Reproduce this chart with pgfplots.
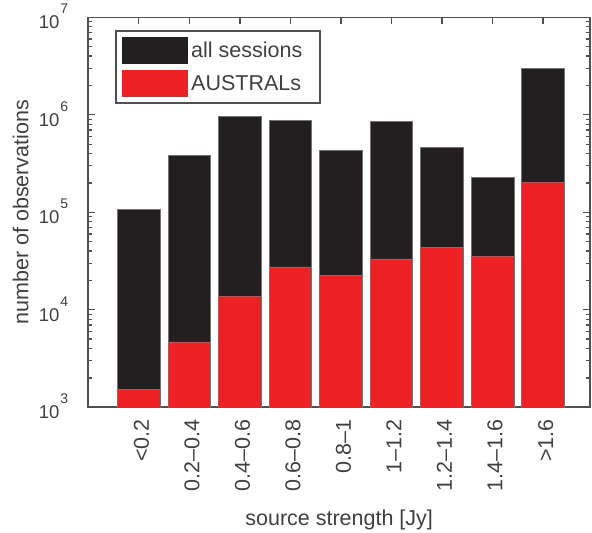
\documentclass[border=0pt]{standalone}
\usepackage{pgfplots}
\pgfplotsset{compat=1.18}
\usepackage{fontspec}
\setmainfont{Liberation Sans}
\definecolor{barblack}{RGB}{35,31,32}
\definecolor{barred}{RGB}{237,32,36}
\definecolor{axgray}{RGB}{80,80,80}
\definecolor{txtgray}{RGB}{64,64,64}
\newcommand{\tenp}[1]{{\fontsize{18.5}{20}\selectfont 10}\hspace{0.8pt}\raisebox{15pt}{\fontsize{14}{14}\selectfont #1}}
\newcommand{\ff}{\fontsize{21.5}{25}\selectfont}
\begin{document}
\begin{tikzpicture}
\useasboundingbox (-88.3pt,-125.7pt) rectangle (503.7pt,407.3pt);
\begin{axis}[
  scale only axis, width=501.7pt, height=390pt,
  at={(0pt,0pt)}, anchor=south west,
  ymode=log, ymin=1e3, ymax=1e7,
  xmin=-1, xmax=8.93,
  ytick={1e3,1e4,1e5,1e6,1e7},
  yticklabels={\tenp{3},\tenp{4},\tenp{5},\tenp{6},\tenp{7}},
  xtick={0,1,2,3,4,5,6,7,8},
  xticklabels={<0.2,0.2–0.4,0.4–0.6,0.6–0.8,0.8–1,1–1.2,1.2–1.4,1.4–1.6,>1.6},
  xtick pos=upper, xticklabel pos=lower,
  ytick pos=both, yticklabel pos=lower,
  tick align=inside,
  axis line style={axgray, line width=1.6pt},
  every tick/.style={axgray, line width=1.3pt},
  major tick length=7pt, minor tick length=4pt,
  tick label style={font=\ff, text=txtgray},
  yticklabel style={anchor=base east, inner sep=0pt, xshift=-20pt, yshift=-11.3pt},
  xticklabel style={xshift=10pt, yshift=-12pt, rotate=90, anchor=base east, inner sep=0pt},
  label style={font=\ff, text=txtgray},
  xlabel={source strength [Jy]},
  ylabel={number of observations},
  xlabel style={at={(axis description cs:0.5,0)}, anchor=base, yshift=-118.2pt},
  ylabel style={at={(axis description cs:-0.1196,0.5)}, anchor=base},
  legend style={at={(0.0532,0.9677)}, anchor=north west, draw=axgray, line width=1.8pt,
    fill=white, inner xsep=6pt, inner ysep=6pt, row sep=6pt, column sep=4pt,
    font=\ff, text=txtgray, nodes={inner sep=0pt, anchor=west}},
  legend cell align=left,
]
\addplot[ybar, bar width=0.845, bar shift=0pt, fill=barblack, draw=black!55, line width=0.6pt,
  legend image code/.code={\fill[barblack] (0pt,-13.2pt) rectangle (64.7pt,13.2pt);}]
  coordinates {(0,1.07e5) (1,3.83e5) (2,9.7e5) (3,8.83e5) (4,4.34e5) (5,8.55e5) (6,4.59e5) (7,2.26e5) (8,3.02e6)};
\addlegendentry{all sessions\kern12pt\null}
\addplot[ybar, bar width=0.845, bar shift=0pt, fill=barred, draw=black!55, line width=0.6pt,
  legend image code/.code={\fill[barred] (0pt,-13.2pt) rectangle (64.7pt,13.2pt);}]
  coordinates {(0,1.53e3) (1,4.69e3) (2,1.36e4) (3,2.75e4) (4,2.24e4) (5,3.32e4) (6,4.37e4) (7,3.53e4) (8,2.02e5)};
\addlegendentry{AUSTRALs}
\end{axis}
\end{tikzpicture}
\end{document}
